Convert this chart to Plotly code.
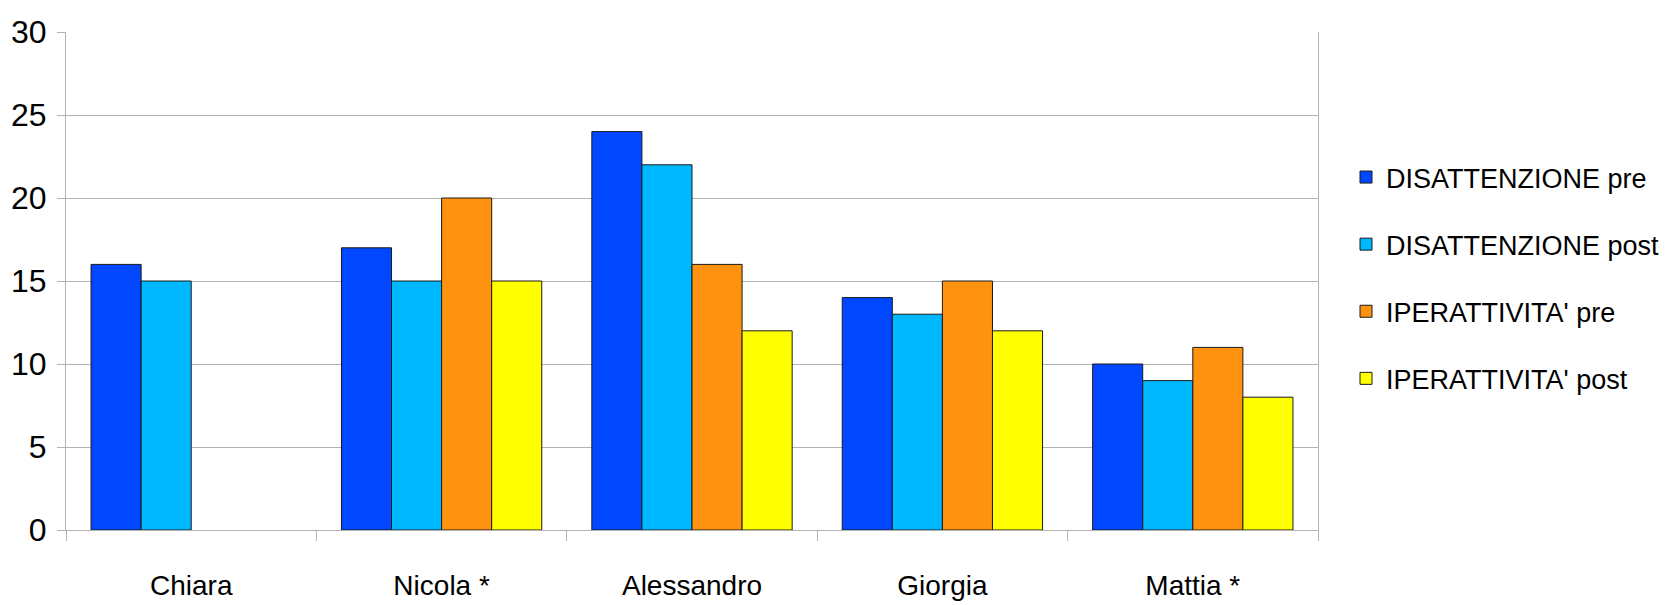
import plotly.graph_objects as go

categories = ["Chiara", "Nicola *", "Alessandro", "Giorgia", "Mattia *"]
dis_pre = [16, 17, 24, 14, 10]
dis_post = [15, 15, 22, 13, 9]
ipe_pre = [None, 20, 16, 15, 11]
ipe_post = [None, 15, 12, 12, 8]

series_names = ["DISATTENZIONE pre", "DISATTENZIONE post", "IPERATTIVITA' pre", "IPERATTIVITA' post"]
series_values = [dis_pre, dis_post, ipe_pre, ipe_post]
colors = ["#0047FF", "#00B8FF", "#FF930F", "#FFFF00"]

FONT = "Liberation Sans, Arial, sans-serif"

W, H = 1669, 605

fig = go.Figure()
for i, (name, vals, col) in enumerate(zip(series_names, series_values, colors)):
    fig.add_trace(go.Bar(
        x=categories, y=vals, name=name,
        marker=dict(color=col, line=dict(color="#1a1a1a", width=1)),
        legendgroup=f"g{i}",
    ))

fig.update_layout(
    width=W, height=H,
    margin=dict(l=66, r=351, t=32, b=75, autoexpand=False),
    paper_bgcolor="white", plot_bgcolor="white",
    barmode="group", bargap=0.2, bargroupgap=0,
    font=dict(family=FONT, size=27, color="black"),
    showlegend=True,
    legend=dict(
        xref="container", yref="container",
        x=1346 / W, xanchor="left",
        y=1 - 153 / H, yanchor="top",
        font=dict(family=FONT, size=27, color="black"),
        tracegroupgap=29,
        bgcolor="rgba(0,0,0,0)",
    ),
    xaxis=dict(
        showline=True, linecolor="#b3b3b3", linewidth=1,
        ticks="outside", tickson="boundaries", ticklen=10, tickcolor="#b3b3b3",
        showgrid=False, mirror=False, automargin=False,
        tickfont=dict(family=FONT, size=28, color="black"),
        ticklabelstandoff=30,
    ),
    yaxis=dict(
        range=[0, 30], dtick=5,
        showline=True, linecolor="#b3b3b3", linewidth=1, mirror=True,
        showgrid=True, gridcolor="#b3b3b3", gridwidth=1,
        ticks="outside", ticklen=8, tickcolor="#b3b3b3",
        zeroline=False, automargin=False,
        tickfont=dict(family=FONT, size=32, color="black"),
        ticklabelstandoff=4,
    ),
)

fig.write_html(
    "out.html",
    config={"displayModeBar": False},
    post_script="document.body.style.margin='0';document.body.style.overflow='hidden';",
)
